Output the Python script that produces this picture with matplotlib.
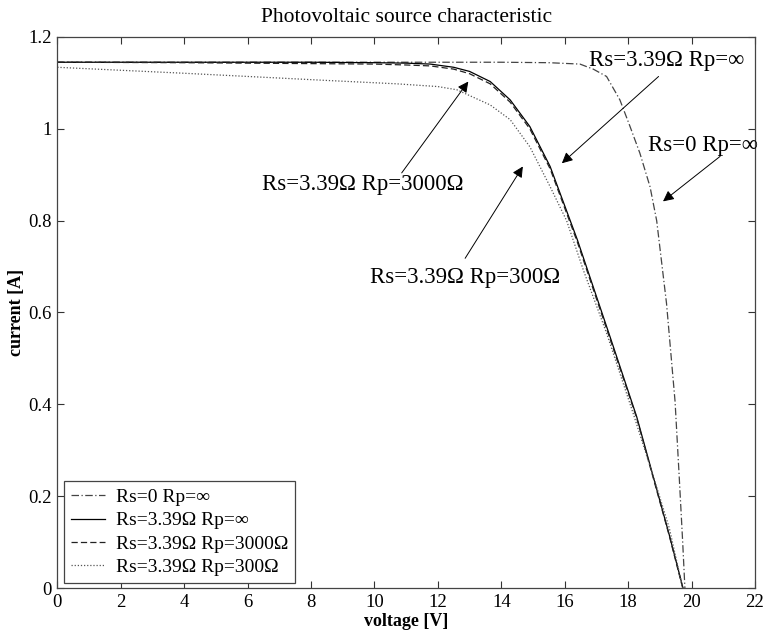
import matplotlib
matplotlib.use("Agg")
import matplotlib.pyplot as plt

# ---- data ----
v_rs0 = [0, 5, 10, 14, 15.5, 16.48, 16.9, 17.32, 17.74, 18.06, 18.37, 18.69, 18.9, 19.21, 19.48, 19.61, 19.72, 19.79]
i_rs0 = [1.145, 1.145, 1.145, 1.145, 1.144, 1.141, 1.13, 1.114, 1.063, 1.005, 0.947, 0.874, 0.80, 0.62, 0.406, 0.243, 0.10, 0.0]

v_rs = [0, 4, 8, 10, 11, 11.76, 12.5, 13.0, 13.65, 14.28, 14.9, 15.54, 16.4, 17.43, 18.27, 18.79, 19.3, 19.73]
i_rs = [1.145, 1.145, 1.145, 1.144, 1.143, 1.141, 1.134, 1.125, 1.103, 1.063, 1.005, 0.918, 0.758, 0.547, 0.373, 0.243, 0.115, 0.0]

v_rp3000 = [0, 4, 8, 10, 11, 11.76, 12.5, 13.0, 13.65, 14.28, 14.9, 15.54, 16.4, 17.43, 18.27, 18.79, 19.3, 19.72]
i_rp3000 = [1.145, 1.144, 1.142, 1.141, 1.139, 1.137, 1.130, 1.120, 1.098, 1.058, 1.0, 0.913, 0.753, 0.542, 0.37, 0.24, 0.113, 0.0]

v_rp300 = [0, 4, 8.6, 10.7, 12.0, 12.6, 13.65, 14.28, 14.9, 15.54, 16.06, 16.6, 17.32, 18.16, 18.9, 19.3, 19.72]
i_rp300 = [1.134, 1.121, 1.105, 1.098, 1.092, 1.085, 1.052, 1.02, 0.961, 0.874, 0.80, 0.69, 0.555, 0.38, 0.22, 0.13, 0.0]

labels = ["Rs=0 Rp=\u221e", "Rs=3.39\u03a9 Rp=\u221e", "Rs=3.39\u03a9 Rp=3000\u03a9", "Rs=3.39\u03a9 Rp=300\u03a9"]
x_ticks = [0, 2, 4, 6, 8, 10, 12, 14, 16, 18, 20, 22]
y_ticks = [0, 0.2, 0.4, 0.6, 0.8, 1.0, 1.2]
y_ticklabels = ["0", "0.2", "0.4", "0.6", "0.8", "1", "1.2"]

plt.rcParams['font.family'] = ['Liberation Serif', 'DejaVu Serif']

fig = plt.figure(figsize=(7.63, 6.42), dpi=100)
ax = fig.add_axes([0.0751, 0.0841, 0.9144, 0.8583])

ax.plot(v_rs0, i_rs0, linestyle=(0, (6, 2, 1, 2)), color='#444444', lw=0.9, label=labels[0])
ax.plot(v_rs, i_rs, linestyle='-', color='black', lw=0.9, label=labels[1])
ax.plot(v_rp3000, i_rp3000, linestyle=(0, (5, 2.5)), color='#222222', lw=0.9, label=labels[2])
ax.plot(v_rp300, i_rp300, linestyle=(0, (1, 1.5)), color='#555555', lw=0.9, label=labels[3])

ax.set_xlim(0, 22)
ax.set_ylim(0, 1.2)
ax.set_xticks(x_ticks)
ax.set_yticks(y_ticks)
ax.set_yticklabels(y_ticklabels)
ax.tick_params(direction='in', top=True, right=True, length=5, width=0.8,
               labelsize=13.5, colors='#333333', labelcolor='black', pad=4)
for s in ax.spines.values():
    s.set_color('#444444')
    s.set_linewidth(0.9)

ax.set_title("Photovoltaic source characteristic", fontsize=15.5, pad=11)
ax.set_xlabel("voltage [V]", fontsize=13, fontweight='bold', labelpad=2)
ax.set_ylabel("current [A]", fontsize=13, fontweight='bold', labelpad=2)

leg = ax.legend(loc='lower left', bbox_to_anchor=(0.0096, 0.009), borderaxespad=0,
                fontsize=14, fancybox=False, framealpha=1, edgecolor='#444444',
                handlelength=1.75, handletextpad=0.55, labelspacing=0.3,
                borderpad=0.35)
leg.get_frame().set_linewidth(0.9)

arrow = dict(arrowstyle='-|>', color='black', lw=0.7, mutation_scale=16,
             shrinkA=0, shrinkB=0)
# annotation texts
ax.text(6.46, 0.866, labels[2], fontsize=16.4, ha='left', va='baseline')
ax.text(16.77, 1.136, labels[1], fontsize=16.4, ha='left', va='baseline')
ax.text(18.63, 0.951, labels[0], fontsize=16.4, ha='left', va='baseline')
ax.text(9.86, 0.664, labels[3], fontsize=16.4, ha='left', va='baseline')
# arrows
ax.annotate("", xy=(12.96, 1.103), xytext=(10.86, 0.904), arrowprops=arrow)
ax.annotate("", xy=(15.91, 0.925), xytext=(18.96, 1.114), arrowprops=arrow)
ax.annotate("", xy=(19.1, 0.842), xytext=(20.9, 0.94), arrowprops=arrow)
ax.annotate("", xy=(14.68, 0.918), xytext=(12.86, 0.718), arrowprops=arrow)

fig.savefig("out.png", dpi=100)
